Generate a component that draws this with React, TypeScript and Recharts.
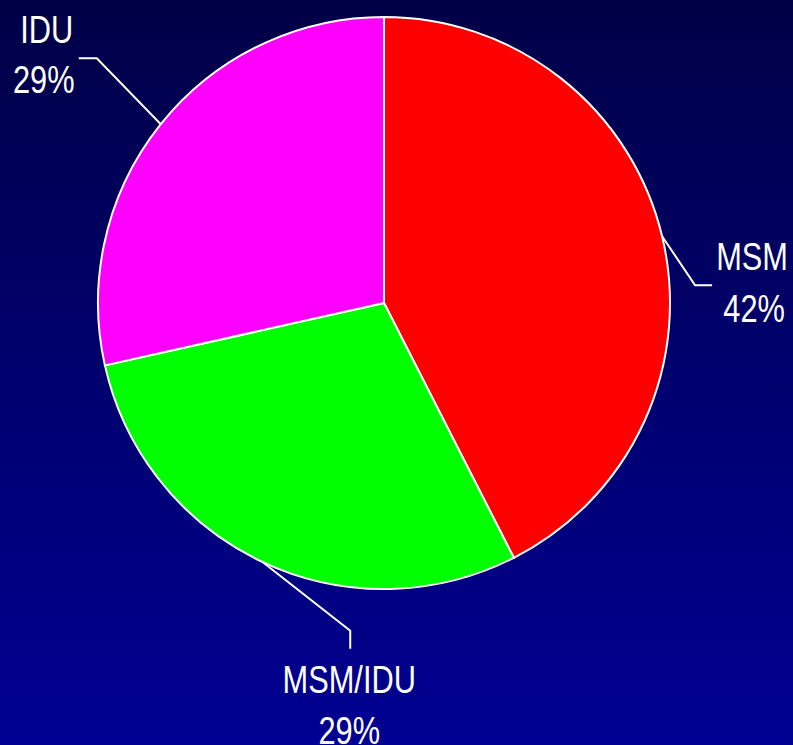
import { PieChart, Pie, Cell } from 'recharts';

const categories = ['MSM', 'MSM/IDU', 'IDU'];
const shares = [42.5, 29, 28.5];
const percentLabels = ['42%', '29%', '29%'];

const COLORS = ['#FF0000', '#00FF00', '#FF00FF'];

const data = categories.map((name, i) => ({ name, value: shares[i] }));

// leader line + text offsets, relative to the point where the slice's mid angle meets the rim
const LABEL_LAYOUT = [
    { elbow: [33, 49], end: [50, 49], name: [90, 34], pct: [92, 86] },
    { elbow: [88, 69], end: [88, 87], name: [87, 131], pct: [87, 182] },
    { elbow: [-64, -66], end: [-82, -66], name: [-114, -81], pct: [-117, -31] },
];

const RADIAN = Math.PI / 180;
// no narrow face installed, so the regular sans is squeezed horizontally
const FONT = '"Liberation Sans", Arial, sans-serif';
const SQUEEZE = 0.81;

const Label = ({ x, y, children }: { x: number; y: number; children: string }) => (
    <text
        transform={`translate(${x},${y}) scale(${SQUEEZE},1)`}
        x={0}
        y={0}
        fill="#FFFFFF"
        fontSize={38}
        fontFamily={FONT}
        textAnchor="middle"
    >
        {children}
    </text>
);

const renderLabel = (props: any) => {
    const { cx, cy, midAngle, outerRadius, index } = props;
    const x0 = cx + outerRadius * Math.cos(-midAngle * RADIAN);
    const y0 = cy + outerRadius * Math.sin(-midAngle * RADIAN);
    const l = LABEL_LAYOUT[index];
    const pts = [[x0, y0], [x0 + l.elbow[0], y0 + l.elbow[1]], [x0 + l.end[0], y0 + l.end[1]]];
    return (
        <g key={`label-${index}`}>
            <polyline
                points={pts.map((p) => p.join(',')).join(' ')}
                fill="none"
                stroke="#FFFFFF"
                strokeWidth={2}
            />
            <Label x={x0 + l.name[0]} y={y0 + l.name[1]}>{categories[index]}</Label>
            <Label x={x0 + l.pct[0]} y={y0 + l.pct[1]}>{percentLabels[index]}</Label>
        </g>
    );
};

export default function App() {
    return (
        <div
            style={{
                position: 'absolute',
                top: 0,
                left: 0,
                width: 793,
                height: 745,
                overflow: 'hidden',
                background: 'linear-gradient(to bottom, #000046 0%, #00006e 50%, #000092 100%)',
            }}
        >
            <PieChart width={793} height={745} margin={{ top: 0, right: 0, bottom: 0, left: 0 }}>
                <Pie
                    data={data}
                    dataKey="value"
                    nameKey="name"
                    cx={384}
                    cy={303}
                    outerRadius={286}
                    startAngle={90}
                    endAngle={-270}
                    stroke="#FFFFFF"
                    strokeWidth={2}
                    label={renderLabel}
                    labelLine={false}
                    isAnimationActive={false}
                >
                    {data.map((_, index) => (
                        <Cell key={`cell-${index}`} fill={COLORS[index]} />
                    ))}
                </Pie>
            </PieChart>
        </div>
    );
}
